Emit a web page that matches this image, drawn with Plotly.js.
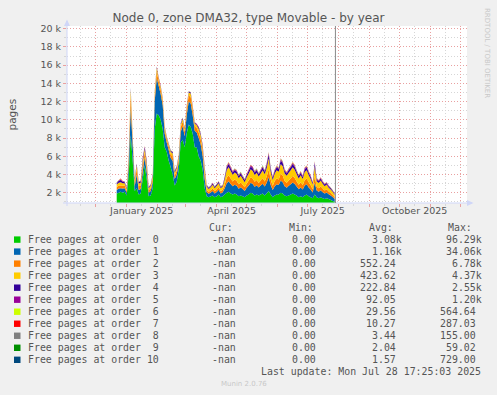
<!DOCTYPE html>
<html>
<head>
<meta charset="utf-8">
<script src="https://cdn.plot.ly/plotly-3.0.1.min.js"></script>
<style>
html,body{margin:0;padding:0;background:#f0f0f0;}
#chart{width:497px;height:395px;}
</style>
</head>
<body>
<div id="chart"></div>
<script>
// ---- data ----
const startDate = '2024-12-22';
const stepDays = 2;
const lastUpdate = '2025-07-28 17:25:03';

const order0 = [1900,2000,2100,2000,2100,1700,
 4000,8300,5500,2200,2500,1800,1900,
 3500,5000,3500,1600,1700,
 2500,9000,10700,10500,10000,9000,7000,6500,
 5500,4800,4000,2800,3200,
 4500,7500,7800,7000,8500,9500,9200,8500,7000,7000,
 6000,5500,4500,2500,
 1600,1500,1600,1700,1500,1600,1800,1500,1600,1800,
 2000,2100,1900,1800,1900,1800,1600,1700,1600,1500,
 1700,1800,2000,1900,1700,1800,1700,1800,1900,1700,
 1900,2200,1800,1500,1700,1800,1800,2000,1900,1700,
 1600,1700,1800,1900,1800,1700,1500,1600,1500,1700,
 1800,1600,1500,1400,1800,1500,1400,1500,1400,1300,
 1400,1300,1200,1100,1000];
const order1 = [400,450,400,450,400,300,
 1000,3000,1700,500,1500,500,500,
 800,900,800,400,500,
 700,3000,3900,3200,2800,2600,1500,1000,
 1200,1000,1500,700,800,
 800,1200,1500,1200,2000,2500,2600,2000,1800,1600,
 2000,1800,1500,1000,
 450,380,420,490,420,490,520,420,450,700,
 1050,1150,1050,910,980,950,840,910,800,700,
 840,980,1080,1050,950,1010,870,980,1080,980,
 1190,1500,1050,800,1010,1120,1050,1330,1260,1010,
 950,1050,1120,1220,1150,980,870,980,840,1080,
 1120,980,840,630,1300,740,700,770,660,600,
 630,520,490,420,320];
const order2 = [300,350,300,300,300,200,
 500,1300,500,400,600,400,400,
 600,500,500,300,300,
 400,600,700,500,500,400,400,400,
 400,400,500,400,400,
 400,500,500,500,600,700,700,600,500,500,
 600,600,600,600,
 260,220,240,280,240,280,300,240,260,400,
 600,660,600,520,560,540,480,520,460,400,
 480,560,620,600,540,580,500,560,620,560,
 680,860,600,460,580,640,600,760,720,580,
 540,600,640,700,660,560,500,560,480,620,
 640,560,480,360,740,420,400,440,380,340,
 360,300,280,240,180];
const order3 = [300,300,350,300,250,200,
 400,700,300,300,400,300,300,
 500,400,400,200,250,
 300,400,400,300,300,300,300,200,
 200,300,300,300,300,
 300,300,300,300,300,300,400,300,300,300,
 400,400,400,500,
 360,310,340,390,340,390,420,340,360,560,
 840,920,840,730,780,760,670,730,640,560,
 670,780,870,840,760,810,700,780,870,780,
 950,1200,840,640,810,900,840,1060,1010,810,
 760,840,900,980,920,780,700,780,670,870,
 900,780,670,500,1040,590,560,620,530,480,
 500,420,390,340,250];
const order4 = [150,200,250,150,100,100,
 150,200,100,150,150,150,150,
 300,200,250,100,100,
 100,100,100,100,80,80,80,80,
 80,100,150,150,150,
 100,100,100,100,100,100,100,100,100,100,
 150,150,150,200,
 130,110,120,140,120,140,150,120,130,200,
 300,330,300,260,280,270,240,260,230,200,
 240,280,310,300,270,290,250,280,310,280,
 340,430,300,230,290,320,300,380,360,290,
 270,300,320,350,330,280,250,280,240,310,
 320,280,240,180,370,210,200,220,190,170,
 180,150,140,120,90];
const order5 = [50,60,70,50,40,40,
 50,60,40,50,50,50,50,
 100,80,90,40,40,
 40,40,40,40,30,30,30,30,
 30,40,50,50,50,
 40,40,40,40,40,40,40,40,40,40,
 50,50,50,70,
 50,40,45,55,45,55,60,45,50,80,
 120,130,120,100,110,110,95,100,90,80,
 95,110,120,120,110,115,100,110,120,110,
 135,170,120,90,115,130,120,150,140,115,
 110,120,130,140,130,110,100,110,95,120,
 130,110,95,70,150,85,80,90,75,70,
 70,60,55,45,35];
const order6 = [20,25,30,20,15,15,
 20,30,15,20,20,20,20,
 40,30,35,15,15,
 15,20,20,15,15,10,10,10,
 10,15,20,20,20,
 15,15,15,15,15,15,15,15,15,15,
 20,20,20,25,
 20,15,18,22,18,22,24,18,20,30,
 45,50,45,40,42,40,36,40,35,30,
 36,42,46,45,40,44,38,42,46,42,
 50,65,45,35,44,48,45,57,54,44,
 40,45,48,52,50,42,38,42,36,46,
 48,42,36,27,55,32,30,33,28,26,
 27,23,21,18,14];
const order7 = [8,10,60,8,6,6,
 8,10,6,8,8,8,8,
 15,12,12,6,6,
 6,6,6,6,5,5,5,5,
 5,6,8,8,8,
 6,6,6,6,6,6,6,6,6,6,
 8,8,8,10,
 8,6,7,9,7,9,10,7,8,12,
 18,20,18,16,17,16,14,16,14,12,
 14,17,19,18,16,18,15,17,19,17,
 20,26,18,14,17,19,18,23,22,17,
 16,18,19,21,20,17,15,17,14,19,
 19,17,14,11,22,13,12,13,11,10,
 11,9,8,7,6];
const order8 = [3,4,5,3,3,2,
 3,4,2,3,3,3,3,
 6,5,5,2,2,
 2,3,3,2,2,2,2,2,
 2,2,3,3,3,
 2,2,2,2,2,2,2,2,2,2,
 3,3,3,4,
 3,2,3,3,3,3,4,3,3,5,
 7,8,7,6,6,6,5,6,5,5,
 5,6,7,7,6,6,5,6,7,6,
 8,10,7,5,6,7,7,9,8,6,
 6,7,7,8,8,6,5,6,5,7,
 7,6,5,4,8,5,4,5,4,4,
 4,4,3,3,2];
const order9 = [2,2,3,2,2,1,
 2,3,1,2,2,2,2,
 4,3,3,1,1,
 1,2,2,1,1,1,1,1,
 1,1,2,2,2,
 1,1,1,1,1,1,1,1,1,1,
 2,2,2,2,
 2,1,2,2,2,2,2,2,2,3,
 4,4,4,3,3,3,3,3,3,3,
 3,3,4,4,3,3,3,3,4,3,
 4,5,4,3,3,4,4,5,4,3,
 3,4,4,4,4,3,3,3,3,4,
 4,3,3,2,4,3,2,3,2,2,
 2,2,2,2,1];
const order10 = [1,1,2,1,1,1,
 1,2,1,1,1,1,1,
 2,2,2,1,1,
 1,1,1,1,1,1,1,1,
 1,1,1,1,1,
 1,1,1,1,1,1,1,1,1,1,
 1,1,1,2,
 1,1,1,1,1,1,2,1,1,2,
 3,3,3,2,2,2,2,2,2,2,
 2,2,3,3,2,2,2,2,3,2,
 3,4,3,2,2,3,3,3,3,2,
 2,3,3,3,3,2,2,2,2,3,
 3,2,2,2,3,2,2,2,2,2,
 2,1,1,1,1];

const seriesNames = ['Free pages at order\u00a0 0','Free pages at order\u00a0 1','Free pages at order\u00a0 2',
 'Free pages at order\u00a0 3','Free pages at order\u00a0 4','Free pages at order\u00a0 5',
 'Free pages at order\u00a0 6','Free pages at order\u00a0 7','Free pages at order\u00a0 8',
 'Free pages at order\u00a0 9','Free pages at order 10'];
const seriesColors = ['#00cc00','#0066b3','#ff8000','#ffcc00','#330099','#990099',
 '#ccff00','#ff0000','#808080','#008f00','#00487d'];
const curValues = ['-nan','-nan','-nan','-nan','-nan','-nan','-nan','-nan','-nan','-nan','-nan'];
const minValues = ['0.00','0.00','0.00','0.00','0.00','0.00','0.00','0.00','0.00','0.00','0.00'];
const avgValues = ['3.08k','1.16k','552.24','423.62','222.84','92.05','29.56','10.27','3.44','2.04','1.57'];
const maxValues = ['96.29k','34.06k','6.78k','4.37k','2.55k','1.20k','564.64','287.03','155.00','59.02','729.00'];

const yTickVals = [2000,4000,6000,8000,10000,12000,14000,16000,18000,20000];
const yTickText = ['2 k','4 k','6 k','8 k','10 k','12 k','14 k','16 k','18 k','20 k'];
const xTickVals = ['2025-01-16','2025-04-16','2025-07-16','2025-10-16'];
const xTickText = ['January 2025','April 2025','July 2025','October 2025'];

const allSeries = [order0,order1,order2,order3,order4,order5,order6,order7,order8,order9,order10];
allSeries.forEach((s,i)=>{ if (s.length !== order0.length) throw new Error('length mismatch series '+i+': '+s.length); });

// dates
const dates = [];
{
  const t0 = Date.parse(startDate + 'T00:00:00Z');
  for (let i = 0; i < order0.length; i++) {
    dates.push(new Date(t0 + i*stepDays*86400000).toISOString().slice(0,10));
  }
}

// ---- geometry helpers (pixel -> paper) ----
const PL = 67, PR = 467, PT = 26, PB = 203;
const px2x = px => (px - PL) / (PR - PL);
const py2y = py => (PB - py) / (PB - PT);

const traces = allSeries.map((s,i)=>({
  type:'scatter', x: dates, y: s, name: seriesNames[i],
  stackgroup:'one', mode:'none', fillcolor: seriesColors[i],
  hoverinfo:'skip', xaxis:'x', yaxis:'y'
}));

const xRange = ['2024-11-02 07:12', '2025-12-07 07:12'];
const red = '#e9a0a0', grey = '#d6d6d6', axisC = '#cfd6f8';
const txt = '#555555';

const annotations = [];
const shapes = [];
const mono = 'DejaVu Sans Mono';
const monoSize = 9.9;
const charW = 5.96;
function addText(text, px, py, anchor, opts) {
  annotations.push(Object.assign({
    text: text, xref:'paper', yref:'paper', x: px2x(px), y: py2y(py),
    xanchor: anchor, yanchor:'middle', showarrow:false, borderpad:0,
    font:{family:mono, size:monoSize, color:txt}
  }, opts||{}));
}
// headers
const headerY = 227.7;
addText('Cur:', 208.3, headerY, 'left');
addText('Min:', 288.3, headerY, 'left');
addText('Avg:', 368.3, headerY, 'left');
addText('Max:', 446.7, headerY, 'left');
const colCur = 237.3, colMin = 316.9, colAvg = 403.3, colMax = 482.7;
function rightEdge(val, col) { return /k$/.test(val) ? col : col - charW; }
for (let i = 0; i < seriesNames.length; i++) {
  const ry = 239.6 + 12.02*i;
  shapes.push({type:'rect', xref:'paper', yref:'paper', x0:px2x(14), x1:px2x(20.5),
    y0:py2y(ry+3.2), y1:py2y(ry-3.2), fillcolor:seriesColors[i], line:{width:0}});
  addText(seriesNames[i], 26.7, ry, 'left');
  addText(curValues[i], colCur, ry, 'right');
  addText(minValues[i], colMin, ry, 'right');
  addText(avgValues[i], rightEdge(avgValues[i], colAvg), ry, 'right');
  addText(maxValues[i], rightEdge(maxValues[i], colMax), ry, 'right');
}
addText('Last update: Mon Jul 28 17:25:03 2025', 481.7, 371.7, 'right');
addText('Munin 2.0.76', 244, 383.5, 'center', {font:{family:'DejaVu Sans', size:7, color:'#c8c8c8'}});
addText('RRDTOOL / TOBI OETIKER', 487.5, 52.5, 'center', {textangle:90, font:{family:'DejaVu Sans', size:7, color:'#c8c8c8'}});
addText('pages', 11, 114.5, 'center', {textangle:-90, font:{family:'DejaVu Sans', size:10.5, color:txt}});

// axis lines and arrows
shapes.push({type:'line', xref:'paper', yref:'paper', x0:0, x1:0, y0:py2y(206), y1:py2y(21), line:{color:axisC, width:1}, layer:'above'});
shapes.push({type:'path', xref:'paper', yref:'paper', path:`M ${px2x(64)} ${py2y(26)} L ${px2x(70)} ${py2y(26)} L ${px2x(67)} ${py2y(19.5)} Z`, fillcolor:axisC, line:{width:0}, layer:'above'});
shapes.push({type:'line', xref:'paper', yref:'paper', x0:px2x(63), x1:px2x(472), y0:0, y1:0, line:{color:axisC, width:1}, layer:'above'});
shapes.push({type:'path', xref:'paper', yref:'paper', path:`M ${px2x(467)} ${py2y(200)} L ${px2x(467)} ${py2y(206)} L ${px2x(473.5)} ${py2y(203)} Z`, fillcolor:axisC, line:{width:0}, layer:'above'});
// "now" rule at last update
shapes.push({type:'line', xref:'x', yref:'paper', x0:lastUpdate, x1:lastUpdate, y0:0, y1:1, line:{color:'#8a8a8a', width:1}, layer:'above'});

const layout = {
  width:497, height:395,
  paper_bgcolor:'#f0f0f0', plot_bgcolor:'#ffffff',
  margin:{l:PL, r:497-PR, t:PT, b:395-PB, pad:0},
  showlegend:false,
  hovermode:false,
  title:{text:'Node 0, zone DMA32, type Movable - by year', x:0.5, xref:'container', y:1-18/395, yref:'container', yanchor:'middle', xanchor:'center',
    font:{family:'DejaVu Sans', size:12, color:txt}},
  xaxis:{type:'date', range:xRange, showticklabels:false, tickmode:'linear', tick0:'2024-11-01', dtick:'M1',
    showgrid:true, gridcolor:red, griddash:'1px,2px', gridwidth:1, ticks:'outside', ticklen:3, tickcolor:red,
    showline:false, zeroline:false, fixedrange:true,
    minor:{tickmode:'linear', tick0:'2024-11-16', dtick:'M1', showgrid:true, gridcolor:grey, griddash:'1px,2px', ticks:'outside', ticklen:2, tickcolor:grey}},
  xaxis2:{type:'date', range:xRange, overlaying:'x', anchor:'y', side:'bottom', tickmode:'array', tickvals:xTickVals, ticktext:xTickText,
    showgrid:false, ticks:'', showline:false, zeroline:false, fixedrange:true,
    tickfont:{family:'DejaVu Sans', size:9.5, color:txt}},
  yaxis:{range:[869,20300], tickmode:'array', tickvals:yTickVals, ticktext:yTickText,
    showgrid:true, gridcolor:red, griddash:'1px,2px', gridwidth:1, ticks:'outside', ticklen:3, tickcolor:red,
    showline:false, zeroline:false, fixedrange:true,
    tickfont:{family:'DejaVu Sans', size:9.5, color:txt},
    minor:{tickmode:'linear', tick0:0, dtick:1000, showgrid:true, gridcolor:grey, griddash:'1px,2px', ticks:'outside', ticklen:2, tickcolor:grey}},
  annotations:annotations,
  shapes:shapes
};
// dummy trace to activate xaxis2 labels
traces.push({type:'scatter', x:[], y:[], xaxis:'x2', yaxis:'y', hoverinfo:'skip', showlegend:false});

Plotly.newPlot('chart', traces, layout, {staticPlot:true, displayModeBar:false});
</script>
</body>
</html>
